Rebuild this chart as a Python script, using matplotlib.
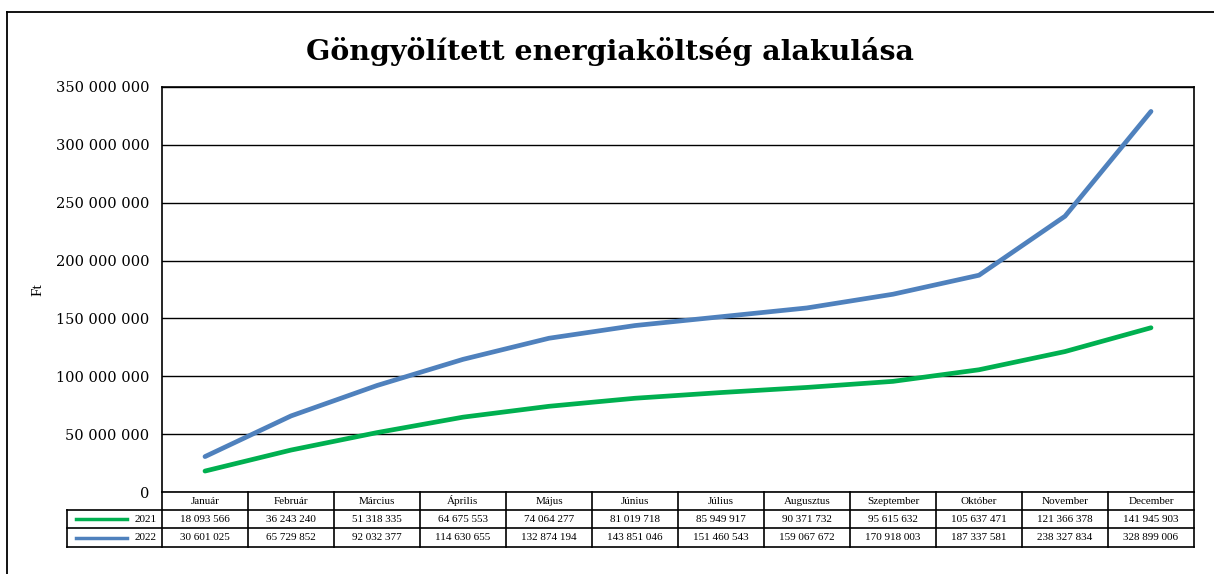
import matplotlib
matplotlib.use("Agg")
import matplotlib.pyplot as plt
from matplotlib.lines import Line2D
from matplotlib.transforms import blended_transform_factory

months = ["Január", "Február", "Március", "Április", "Május", "Június",
          "Július", "Augusztus", "Szeptember", "Október", "November", "December"]
series_names = ["2021", "2022"]
v2021 = [18093566, 36243240, 51318335, 64675553, 74064277, 81019718,
         85949917, 90371732, 95615632, 105637471, 121366378, 141945903]
v2022 = [30601025, 65729852, 92032377, 114630655, 132874194, 143851046,
         151460543, 159067672, 170918003, 187337581, 238327834, 328899006]
colors = ["#00B050", "#4F81BD"]
yticks = [0, 50000000, 100000000, 150000000, 200000000, 250000000, 300000000, 350000000]

def fmt(v):
    return f"{v:,}".replace(",", " ")

plt.rcParams['font.family'] = ['Liberation Serif', 'DejaVu Serif']

W, H = 1214, 574
fig = plt.figure(figsize=(W / 100, H / 100), dpi=100)

# outer border
fig.add_artist(Line2D([7 / W, 7 / W], [0, 1 - 12 / H], transform=fig.transFigure, color="black", lw=1.3))
fig.add_artist(Line2D([7 / W, 1], [1 - 12 / H, 1 - 12 / H], transform=fig.transFigure, color="black", lw=1.3))

L, R, T, B = 162, 1194, 87, 492
ax = fig.add_axes([L / W, 1 - B / H, (R - L) / W, (B - T) / H])

x = list(range(len(months)))
for vals, c in zip([v2021, v2022], colors):
    ax.plot(x, vals, color=c, lw=3.4, solid_capstyle="round", zorder=3)

ax.set_xlim(-0.5, len(months) - 0.5)
ax.set_ylim(0, 350000000)
ax.set_yticks(yticks)
ax.set_yticklabels([fmt(v) for v in yticks], fontsize=10.5, family="DejaVu Serif")
ax.tick_params(axis="y", length=0, pad=9)
ax.set_xticks([])
ax.grid(axis="y", color="black", lw=1)
for s in ax.spines.values():
    s.set_color("black")
    s.set_linewidth(1.2)
ax.spines["bottom"].set_visible(False)
ax.set_axisbelow(True)

fig.text(38 / W, 1 - 290 / H, "Ft", rotation=90, fontsize=11, ha="center", va="center")
fig.text(610 / W, 1 - 51 / H, "Göngyölített energiaköltség alakulása",
         fontsize=20.5, fontweight="bold", family="DejaVu Serif", ha="center", va="center")

# table
ph = B - T
rows_px = [492, 510, 528, 547]
ry = [(B - r) / ph for r in rows_px]
tr = blended_transform_factory(ax.transData, ax.transAxes)
tra = ax.transAxes
leg_left = (67 - L) / (R - L)

def hline(x0, x1, y, transform, lw=1.2):
    ax.add_line(Line2D([x0, x1], [y, y], transform=transform, color="black", lw=lw, clip_on=False))

def vline(xv, y0, y1, transform, lw=1.2):
    ax.add_line(Line2D([xv, xv], [y0, y1], transform=transform, color="black", lw=lw, clip_on=False))

hline(0, 1, ry[0], tra)
for yv in ry[1:]:
    hline(leg_left, 1, yv, tra)
for i in range(len(months) + 1):
    vline(i - 0.5, ry[0], ry[3], tr)
vline(leg_left, ry[1], ry[3], tra)

for i, m in enumerate(months):
    ax.text(i, (ry[0] + ry[1]) / 2, m, transform=tr, ha="center", va="center", fontsize=8, clip_on=False)
    ax.text(i, (ry[1] + ry[2]) / 2, fmt(v2021[i]), transform=tr, ha="center", va="center", fontsize=8, clip_on=False)
    ax.text(i, (ry[2] + ry[3]) / 2, fmt(v2022[i]), transform=tr, ha="center", va="center", fontsize=8, clip_on=False)

for k, (name, c) in enumerate(zip(series_names, colors)):
    yc = (ry[1 + k] + ry[2 + k]) / 2
    x0 = (76 - L) / (R - L)
    x1 = (127 - L) / (R - L)
    ax.add_line(Line2D([x0, x1], [yc, yc], transform=tra, color=c, lw=2.5, clip_on=False))
    ax.text((157 - L) / (R - L), yc, name, transform=tra, ha="right", va="center", fontsize=8, clip_on=False)

fig.savefig("out.png", dpi=100)
